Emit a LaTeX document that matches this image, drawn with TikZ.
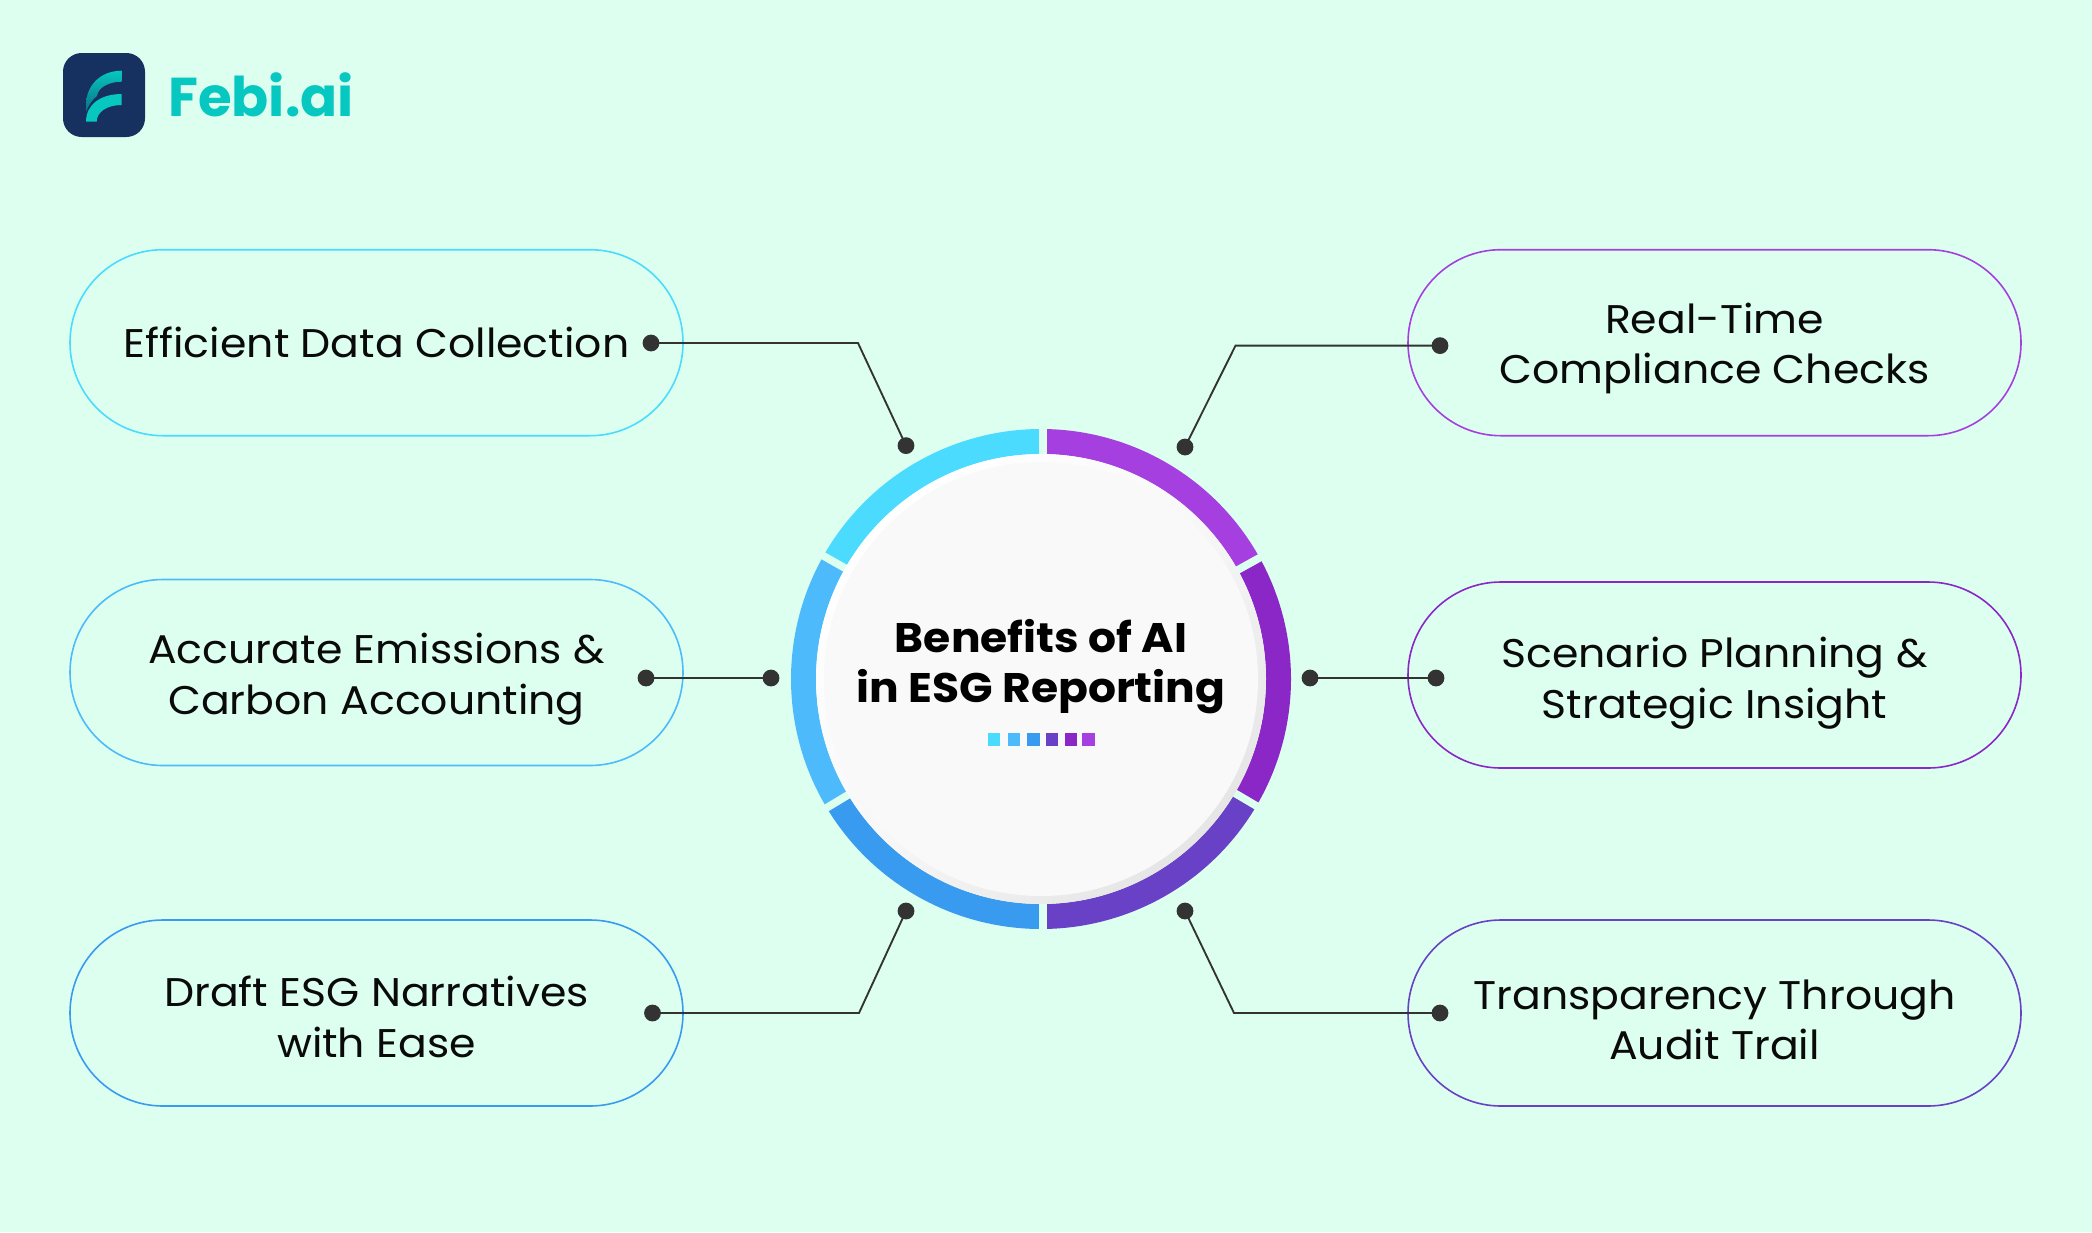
\documentclass[tikz,border=0pt]{standalone}
\usepackage{fontspec}
\setmainfont{Poppins}[FakeStretch=1.065]
\newfontfamily\logofont{Poppins}
\definecolor{bgc}{HTML}{DCFFF0}
\definecolor{ca}{HTML}{4ADBFF}
\definecolor{cb}{HTML}{4DBBFB}
\definecolor{cc}{HTML}{399BF0}
\definecolor{cd}{HTML}{6941C6}
\definecolor{ce}{HTML}{8A27C6}
\definecolor{cf}{HTML}{A63FE0}
\definecolor{navy}{HTML}{16305F}
\definecolor{teal1}{HTML}{06C8C0}
\definecolor{teal2}{HTML}{0A6F85}
\definecolor{dotc}{HTML}{333333}
\definecolor{core}{HTML}{F9F9F9}
\definecolor{txt}{HTML}{0A0A0A}
\tikzset{
  pill/.style={draw=#1,line width=1.2pt,rounded corners=69.7pt,minimum width=459.75pt,minimum height=139.5pt,inner sep=0pt},
  pilltext/.style={align=center,inner sep=0pt,text=txt,font=\fontsize{30pt}{37.8pt}\selectfont},
  dotn/.style={circle,fill=dotc,inner sep=0pt,minimum size=12.6pt},
  conn/.style={draw=dotc,line width=1.4pt},
  seg/.style={line width=18.75pt,draw=#1},
  gapline/.style={draw=bgc,line width=5.8pt},
  tick/.style={fill=#1,inner sep=0pt,minimum size=9.45pt}
}
\begin{document}
\begin{tikzpicture}[x=0.75pt,y=-0.75pt]
\useasboundingbox (0,0) rectangle (2092,1232);
\fill[bgc] (0,0) rectangle (2092,1232);
% logo
\fill[navy,rounded corners=14pt] (63,53) rectangle (145,137);
\shade[bottom color=teal2,top color=teal1]
  (121.7,70.7) .. controls (100,70.7) and (86,86) .. (86,105) -- (86,112) .. controls (89,104) and (93,99) .. (97,96)
  .. controls (98,88) and (108,81.7) .. (121.7,81.7) -- cycle;
\fill[teal1] (121.7,94) -- (121.7,105) .. controls (107,105) and (96.7,112) .. (96.7,121.7) -- (86,121.7)
  .. controls (86,105) and (100,94) .. (121.7,94) -- cycle;
\node[anchor=base west,inner sep=0pt,text=teal1,font=\logofont\fontsize{41pt}{41pt}\selectfont\bfseries] (logotext) at (168,116) {Febi.ai};
% ring
\begin{scope}[shift={(1041,679)},yscale=-1]
  \draw[seg=ca] (90:237.5) arc (90:150:237.5);
  \draw[seg=cb] (150:237.5) arc (150:211:237.5);
  \draw[seg=cc] (211:237.5) arc (211:270:237.5);
  \draw[seg=cd] (270:237.5) arc (270:330:237.5);
  \draw[seg=ce] (330:237.5) arc (330:389:237.5);
  \draw[seg=cf] (389:237.5) arc (389:450:237.5);
  \foreach \a in {29,150.5,211,329.5}{\draw[gapline] (\a:215) -- (\a:256);}
  \draw[gapline] (1.7,215) -- (1.7,256);
  \draw[gapline] (1.7,-215) -- (1.7,-256);
\end{scope}
\node[circle,inner sep=0pt,minimum size=337.5pt,shading=axis,top color=white,bottom color=black!10,middle color=black!3,shading angle=45] (rim) at (1041,679) {};
\node[circle,fill=core,inner sep=0pt,minimum size=325.5pt] (core) at (1041,679) {};
\node[inner sep=0pt,align=center,text=black,font=\fontsize{31pt}{37.5pt}\selectfont\bfseries] (title) at (1041,666.7) {Benefits of AI\\in ESG Reporting};
\foreach \n/\x/\c in {t1/994/ca,t2/1014/cb,t3/1033.5/cc,t4/1052/cd,t5/1071/ce,t6/1088.5/cf}{
  \node[tick=\c] (\n) at (\x,739.7) {};}
% pills
\node[pill=ca] (p1) at (376.5,342.7) {};
\node[pill=cb] (p2) at (376.5,672.5) {};
\node[pill=cc] (p3) at (376.5,1013) {};
\node[pill=cf] (p4) at (1714.5,342.7) {};
\node[pill=ce] (p5) at (1714.5,675) {};
\node[pill=cd] (p6) at (1714.5,1013) {};
\node[pilltext] (l1) at (376.5,342.7) {Efficient Data Collection};
\node[pilltext] (l2) at (376.5,679.2) {Accurate Emissions \&\\Carbon Accounting};
\node[pilltext] (l3) at (376.5,1017) {Draft ESG Narratives\\with Ease};
\node[pilltext] (l4) at (1714.5,348.7) {Real-Time\\Compliance Checks};
\node[pilltext] (l5) at (1714.5,683) {Scenario Planning \&\\Strategic Insight};
\node[pilltext] (l6) at (1714.5,1019.7) {Transparency Through\\Audit Trail};
% dots
\node[dotn] (a1) at (651,343) {};
\node[dotn] (b1) at (906,445.6) {};
\node[dotn] (a2) at (646,678) {};
\node[dotn] (b2) at (771,678) {};
\node[dotn] (a3) at (652.5,1013) {};
\node[dotn] (b3) at (906,911) {};
\node[dotn] (a4) at (1440,345.6) {};
\node[dotn] (b4) at (1185,447) {};
\node[dotn] (a5) at (1436,678) {};
\node[dotn] (b5) at (1310,678) {};
\node[dotn] (a6) at (1440,1013) {};
\node[dotn] (b6) at (1185,911) {};
\coordinate (k1) at (858,343);
\coordinate (k3) at (859,1013);
\coordinate (k4) at (1235.5,345.6);
\coordinate (k6) at (1234,1013);
\draw[conn] (a1.center) -- (k1) -- (b1.center);
\draw[conn] (a2.center) -- (b2.center);
\draw[conn] (a3.center) -- (k3) -- (b3.center);
\draw[conn] (a4.center) -- (k4) -- (b4.center);
\draw[conn] (a5.center) -- (b5.center);
\draw[conn] (a6.center) -- (k6) -- (b6.center);
\end{tikzpicture}
\end{document}
